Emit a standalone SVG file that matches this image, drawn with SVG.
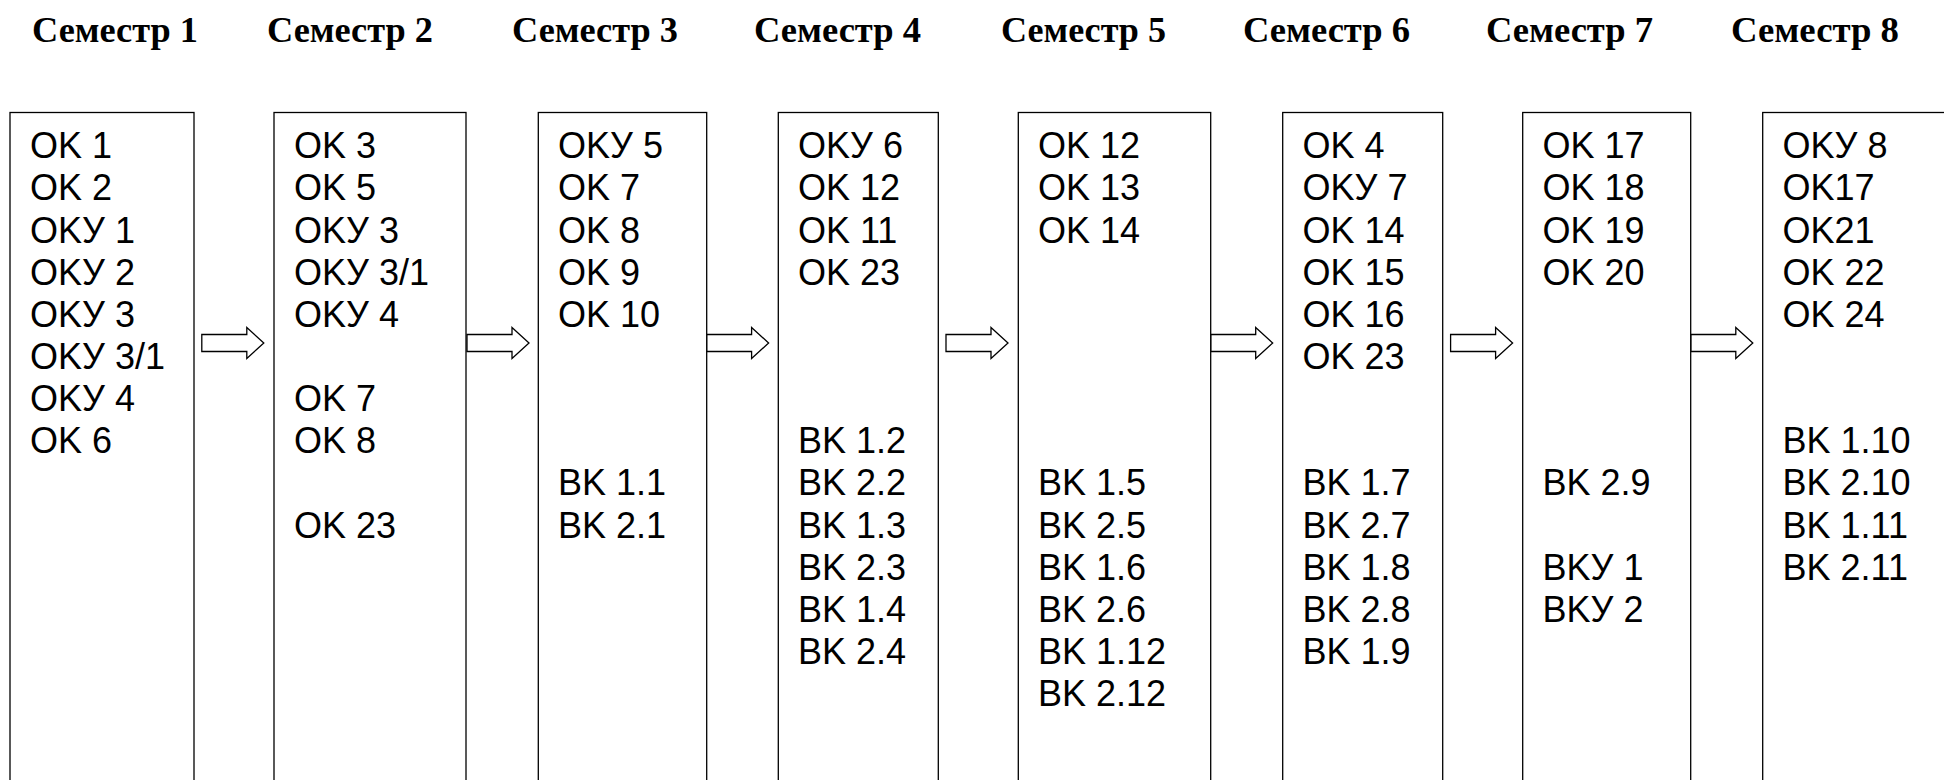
<svg xmlns="http://www.w3.org/2000/svg" xmlns:xlink="http://www.w3.org/1999/xlink" width="1944" height="780" viewBox="0 0 1944 780">
  <style>
    .title { font-family: "Liberation Serif", "Times New Roman", serif; font-weight: bold; font-size: 36px; fill: #000; }
    .box { fill: #fff; stroke: #000; stroke-width: 1.3; }
    .item { font-family: "Liberation Sans", Arial, sans-serif; font-size: 36px; fill: #000; }
    .arrow { fill: #fff; stroke: #000; stroke-width: 1.3; stroke-linejoin: miter; }
  </style>
  <defs>
    <path id="blockArrow" d="M0,-8.5 H45 V-15.5 L62,0 L45,15.5 V8.5 H0 Z"/>
  </defs>
  <rect x="0" y="0" width="1944" height="780" fill="#fff"/>

  <g id="titles">
    <text class="title" x="32" y="42" textLength="166" lengthAdjust="spacingAndGlyphs">Семестр 1</text>
    <text class="title" x="267" y="42" textLength="166" lengthAdjust="spacingAndGlyphs">Семестр 2</text>
    <text class="title" x="512" y="42" textLength="166" lengthAdjust="spacingAndGlyphs">Семестр 3</text>
    <text class="title" x="754" y="42" textLength="167" lengthAdjust="spacingAndGlyphs">Семестр 4</text>
    <text class="title" x="1001" y="42" textLength="165" lengthAdjust="spacingAndGlyphs">Семестр 5</text>
    <text class="title" x="1243" y="42" textLength="167" lengthAdjust="spacingAndGlyphs">Семестр 6</text>
    <text class="title" x="1486" y="42" textLength="167" lengthAdjust="spacingAndGlyphs">Семестр 7</text>
    <text class="title" x="1731" y="42" textLength="168" lengthAdjust="spacingAndGlyphs">Семестр 8</text>
  </g>

  <g id="connectors">
    <use xlink:href="#blockArrow" href="#blockArrow" class="arrow" transform="translate(201.8,343)"/>
    <use xlink:href="#blockArrow" href="#blockArrow" class="arrow" transform="translate(467,343)"/>
    <use xlink:href="#blockArrow" href="#blockArrow" class="arrow" transform="translate(706.6,343)"/>
    <use xlink:href="#blockArrow" href="#blockArrow" class="arrow" transform="translate(946,343)"/>
    <use xlink:href="#blockArrow" href="#blockArrow" class="arrow" transform="translate(1210.7,343)"/>
    <use xlink:href="#blockArrow" href="#blockArrow" class="arrow" transform="translate(1450.6,343)"/>
    <use xlink:href="#blockArrow" href="#blockArrow" class="arrow" transform="translate(1690.8,343)"/>
  </g>

  <g id="sem1">
    <rect class="box" x="10" y="112.5" width="184" height="700"/>
    <text class="item" x="30" y="158.3">OK 1</text>
    <text class="item" x="30" y="200.4">OK 2</text>
    <text class="item" x="30" y="242.6">OKУ 1</text>
    <text class="item" x="30" y="284.7">OKУ 2</text>
    <text class="item" x="30" y="326.8">OKУ 3</text>
    <text class="item" x="30" y="369">OKУ 3/1</text>
    <text class="item" x="30" y="411.1">OKУ 4</text>
    <text class="item" x="30" y="453.2">OK 6</text>
  </g>

  <g id="sem2">
    <rect class="box" x="274" y="112.5" width="192" height="700"/>
    <text class="item" x="294" y="158.3">OK 3</text>
    <text class="item" x="294" y="200.4">OK 5</text>
    <text class="item" x="294" y="242.6">OKУ 3</text>
    <text class="item" x="294" y="284.7">OKУ 3/1</text>
    <text class="item" x="294" y="326.8">OKУ 4</text>
    <text class="item" x="294" y="411.1">OK 7</text>
    <text class="item" x="294" y="453.2">OK 8</text>
    <text class="item" x="294" y="537.5">OK 23</text>
  </g>

  <g id="sem3">
    <rect class="box" x="538.3" y="112.5" width="168.4" height="700"/>
    <text class="item" x="558" y="158.3">OKУ 5</text>
    <text class="item" x="558" y="200.4">OK 7</text>
    <text class="item" x="558" y="242.6">OK 8</text>
    <text class="item" x="558" y="284.7">OK 9</text>
    <text class="item" x="558" y="326.8">OK 10</text>
    <text class="item" x="558" y="495.3">BK 1.1</text>
    <text class="item" x="558" y="537.5">BK 2.1</text>
  </g>

  <g id="sem4">
    <rect class="box" x="778.3" y="112.5" width="160" height="700"/>
    <text class="item" x="798" y="158.3">OKУ 6</text>
    <text class="item" x="798" y="200.4">OK 12</text>
    <text class="item" x="798" y="242.6">OK 11</text>
    <text class="item" x="798" y="284.7">OK 23</text>
    <text class="item" x="798" y="453.2">BK 1.2</text>
    <text class="item" x="798" y="495.3">BK 2.2</text>
    <text class="item" x="798" y="537.5">BK 1.3</text>
    <text class="item" x="798" y="579.6">BK 2.3</text>
    <text class="item" x="798" y="621.7">BK 1.4</text>
    <text class="item" x="798" y="663.9">BK 2.4</text>
  </g>

  <g id="sem5">
    <rect class="box" x="1018.3" y="112.5" width="192.4" height="700"/>
    <text class="item" x="1038" y="158.3">OK 12</text>
    <text class="item" x="1038" y="200.4">OK 13</text>
    <text class="item" x="1038" y="242.6">OK 14</text>
    <text class="item" x="1038" y="495.3">BK 1.5</text>
    <text class="item" x="1038" y="537.5">BK 2.5</text>
    <text class="item" x="1038" y="579.6">BK 1.6</text>
    <text class="item" x="1038" y="621.7">BK 2.6</text>
    <text class="item" x="1038" y="663.9">BK 1.12</text>
    <text class="item" x="1038" y="706">BK 2.12</text>
  </g>

  <g id="sem6">
    <rect class="box" x="1282.7" y="112.5" width="160" height="700"/>
    <text class="item" x="1302.5" y="158.3">OK 4</text>
    <text class="item" x="1302.5" y="200.4">OKУ 7</text>
    <text class="item" x="1302.5" y="242.6">OK 14</text>
    <text class="item" x="1302.5" y="284.7">OK 15</text>
    <text class="item" x="1302.5" y="326.8">OK 16</text>
    <text class="item" x="1302.5" y="369">OK 23</text>
    <text class="item" x="1302.5" y="495.3">BK 1.7</text>
    <text class="item" x="1302.5" y="537.5">BK 2.7</text>
    <text class="item" x="1302.5" y="579.6">BK 1.8</text>
    <text class="item" x="1302.5" y="621.7">BK 2.8</text>
    <text class="item" x="1302.5" y="663.9">BK 1.9</text>
  </g>

  <g id="sem7">
    <rect class="box" x="1522.7" y="112.5" width="168" height="700"/>
    <text class="item" x="1542.5" y="158.3">OK 17</text>
    <text class="item" x="1542.5" y="200.4">OK 18</text>
    <text class="item" x="1542.5" y="242.6">OK 19</text>
    <text class="item" x="1542.5" y="284.7">OK 20</text>
    <text class="item" x="1542.5" y="495.3">BK 2.9</text>
    <text class="item" x="1542.5" y="579.6">BKУ 1</text>
    <text class="item" x="1542.5" y="621.7">BKУ 2</text>
  </g>

  <g id="sem8">
    <rect class="box" x="1762.7" y="112.5" width="200" height="700"/>
    <text class="item" x="1782.5" y="158.3">OKУ 8</text>
    <text class="item" x="1782.5" y="200.4">OK17</text>
    <text class="item" x="1782.5" y="242.6">OK21</text>
    <text class="item" x="1782.5" y="284.7">OK 22</text>
    <text class="item" x="1782.5" y="326.8">OK 24</text>
    <text class="item" x="1782.5" y="453.2">BK 1.10</text>
    <text class="item" x="1782.5" y="495.3">BK 2.10</text>
    <text class="item" x="1782.5" y="537.5">BK 1.11</text>
    <text class="item" x="1782.5" y="579.6">BK 2.11</text>
  </g>
</svg>
